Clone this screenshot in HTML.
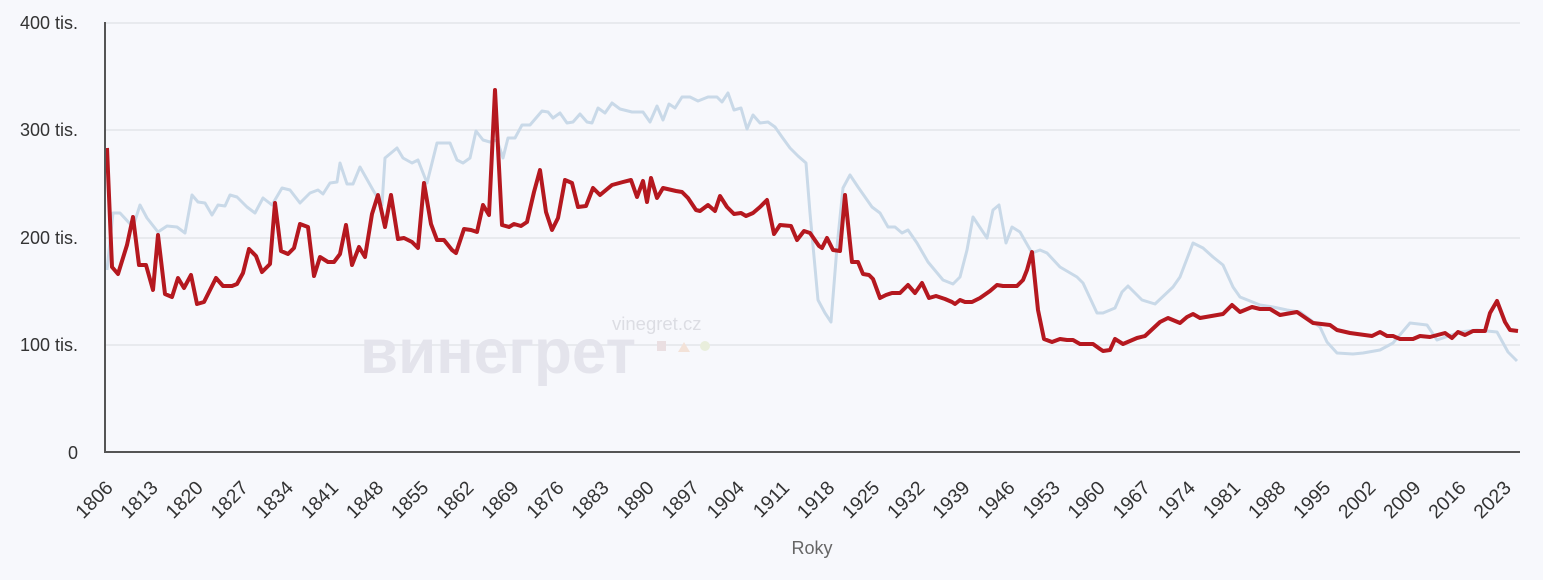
<!DOCTYPE html>
<html><head><meta charset="utf-8"><style>
html,body{margin:0;padding:0;background:#f7f8fc;}
svg{display:block;font-family:"Liberation Sans",sans-serif;}
</style></head><body>
<svg width="1543" height="580" viewBox="0 0 1543 580">
<rect width="1543" height="580" fill="#f7f8fc"/>
<g stroke="#e4e5ea" stroke-width="1.5">
<line x1="105" y1="23" x2="1520" y2="23"/>
<line x1="105" y1="130" x2="1520" y2="130"/>
<line x1="105" y1="238" x2="1520" y2="238"/>
<line x1="105" y1="345" x2="1520" y2="345"/>
</g>
<g font-size="18" fill="#333" text-anchor="end">
<text x="78" y="29">400 tis.</text>
<text x="78" y="136">300 tis.</text>
<text x="78" y="244">200 tis.</text>
<text x="78" y="351">100 tis.</text>
<text x="78" y="459">0</text>
</g>
<text x="360" y="373" font-size="63" font-weight="bold" fill="#e4e4ec" textLength="276" lengthAdjust="spacingAndGlyphs">винегрет</text>
<text x="612" y="330" font-size="18.5" fill="#dcdde3">vinegret.cz</text>
<rect x="657" y="341" width="9" height="10" fill="#eadfe2"/>
<polygon points="678,352 684,342 690,352" fill="#f3e2d8"/>
<circle cx="705" cy="346" r="5" fill="#e9eedc"/>
<polyline fill="none" stroke="#c9d9e8" stroke-width="3" stroke-linejoin="round" points="107,270 113,213 120,213 133,227 140,205 147,218 158,232 167,226 177,227 185,233 192,195 198,202 205,203 212,215 218,205 225,206 230,195 237,197 247,207 255,213 263,198 272,205 282,188 290,190 300,203 310,193 318,190 323,194 330,183 337,182 340,163 347,184 353,184 360,167 373,190 382,205 385,158 397,148 403,158 412,163 418,160 427,183 437,143 450,143 457,160 463,163 470,158 476,131 483,140 490,142 497,140 503,158 508,138 515,138 522,125 530,125 542,111 548,112 553,118 560,113 567,123 573,122 580,114 587,122 592,123 598,108 605,113 612,103 620,109 632,112 643,112 650,122 657,106 663,120 669,104 675,108 682,97 690,97 698,101 708,97 717,97 722,102 728,93 734,110 741,108 747,129 753,115 760,123 768,122 775,127 782,137 790,148 798,156 806,163 810,213 818,300 825,313 831,322 837,247 843,188 850,175 858,187 865,197 872,207 880,213 888,227 895,227 902,233 908,230 917,243 928,262 943,280 953,284 960,277 967,250 973,217 987,238 993,210 999,205 1006,243 1012,227 1020,232 1032,253 1040,250 1047,253 1060,267 1077,277 1083,283 1097,313 1103,313 1115,308 1122,292 1128,286 1142,300 1155,304 1173,287 1180,277 1193,243 1203,248 1213,257 1223,265 1233,287 1240,297 1260,305 1273,307 1287,310 1300,312 1320,327 1327,342 1337,353 1353,354 1363,353 1380,350 1393,343 1410,323 1427,325 1437,340 1460,332 1477,330 1497,332 1508,352 1517,361"/>
<polyline fill="none" stroke="#b5181f" stroke-width="4" stroke-linejoin="round" points="107,148 112,267 118,274 127,245 133,217 139,265 146,265 153,290 158,235 165,294 172,297 178,278 184,288 191,275 197,304 204,302 216,278 223,286 232,286 237,284 243,273 249,249 256,256 262,272 270,264 275,203 281,251 288,254 294,248 300,224 308,227 314,276 320,257 328,262 334,262 340,254 346,225 352,265 359,247 365,257 372,214 378,195 385,227 391,195 398,239 404,238 412,242 418,248 424,183 431,224 437,240 444,240 452,250 456,253 464,229 471,230 477,232 483,205 489,215 495,90 502,225 509,227 514,224 521,226 527,222 534,192 540,170 546,212 552,230 558,218 565,180 572,183 578,207 586,206 593,188 600,195 612,185 623,182 631,180 637,197 643,181 647,202 651,178 657,198 663,188 676,191 682,192 688,198 696,210 700,211 708,205 715,211 720,196 727,207 734,214 741,213 746,216 753,213 760,207 767,200 774,234 780,225 791,226 797,240 804,231 810,233 819,246 822,248 827,238 833,250 840,251 845,195 852,262 858,262 863,274 869,275 873,279 880,298 886,295 892,293 900,293 908,285 915,293 922,283 929,298 936,296 945,299 952,302 955,304 960,300 965,302 972,302 980,298 990,291 997,285 1003,286 1011,286 1017,286 1023,280 1027,270 1032,252 1038,310 1044,339 1052,342 1060,339 1067,340 1073,340 1080,344 1087,344 1093,344 1100,349 1103,351 1110,350 1115,339 1123,344 1137,338 1145,336 1160,322 1168,318 1180,323 1187,317 1193,314 1200,318 1223,314 1232,305 1240,312 1252,307 1260,309 1270,309 1280,315 1297,312 1313,323 1330,325 1337,330 1350,333 1372,336 1380,332 1387,336 1393,336 1400,339 1413,339 1420,336 1430,337 1445,333 1452,338 1458,332 1465,335 1473,331 1485,331 1490,313 1497,301 1505,322 1510,330 1518,331"/>
<line x1="105" y1="22" x2="105" y2="452" stroke="#555" stroke-width="2"/>
<line x1="104" y1="452" x2="1520" y2="452" stroke="#555" stroke-width="2"/>
<g font-size="19.5" fill="#333" text-anchor="end" id="xl"></g>
<text x="812" y="554" font-size="18" fill="#666" text-anchor="middle">Roky</text>
<script>
var g=document.getElementById('xl');
for(var k=0;k<=31;k++){var y=1806+7*k;var x=105+6.443*7*k;
var t=document.createElementNS('http://www.w3.org/2000/svg','text');
t.setAttribute('transform','translate('+(x+9)+',489) rotate(-45)');
t.textContent=y;g.appendChild(t);}
</script>
</svg>
</body></html>
